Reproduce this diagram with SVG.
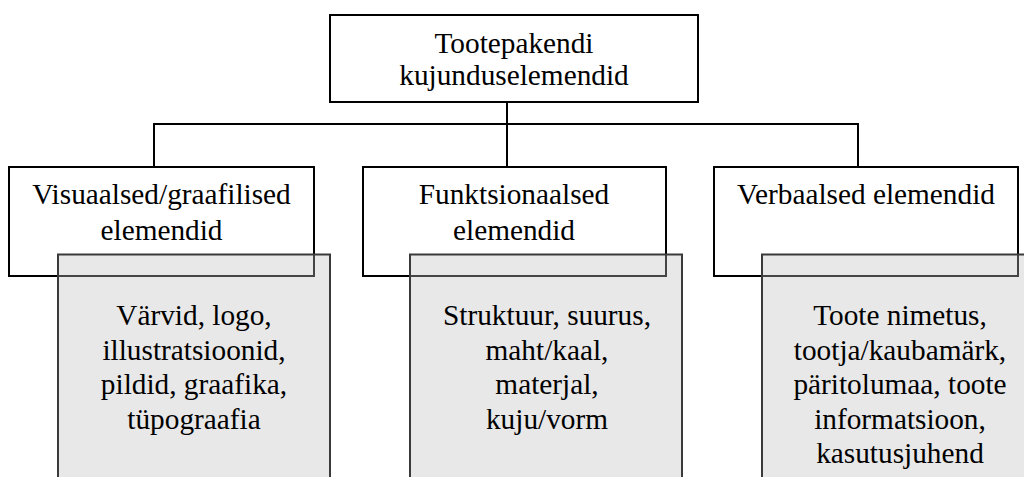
<svg xmlns="http://www.w3.org/2000/svg" width="1024" height="477" viewBox="0 0 1024 477">
  <style>
    .box { fill: #ffffff; stroke: #000000; stroke-width: 2; }
    .detail { fill: #bebebe; fill-opacity: 0.36; stroke: #3a3a3a; stroke-width: 2; }
    .wire { fill: none; stroke: #000000; stroke-width: 2; }
    text { font-family: "Liberation Serif", "Times New Roman", serif; font-size: 29.3px; fill: #000000; text-anchor: middle; }
  </style>
  <rect width="1024" height="477" fill="#ffffff"/>

  <!-- tree connectors -->
  <g id="connectors">
    <path class="wire" d="M507 102 V124"/>
    <path class="wire" d="M154 124 H858"/>
    <path class="wire" d="M154 123 V167"/>
    <path class="wire" d="M507 123 V167"/>
    <path class="wire" d="M858 123 V167"/>
  </g>

  <!-- root -->
  <g id="root">
    <rect class="box" x="330" y="15" width="368" height="87"/>
    <text x="514" y="53">Tootepakendi</text>
    <text x="514" y="85">kujunduselemendid</text>
  </g>

  <!-- category headers -->
  <g id="visual">
    <rect class="box" x="9" y="167" width="305" height="109"/>
    <text x="161.5" y="204">Visuaalsed/graafilised</text>
    <text x="161.5" y="240">elemendid</text>
  </g>
  <g id="functional">
    <rect class="box" x="363" y="167" width="303" height="109"/>
    <text x="514" y="204">Funktsionaalsed</text>
    <text x="514" y="240">elemendid</text>
  </g>
  <g id="verbal">
    <rect class="box" x="714" y="167" width="304" height="109"/>
    <text x="866" y="204">Verbaalsed elemendid</text>
  </g>

  <!-- detail panels (translucent, overlapping the headers) -->
  <g id="visual-details">
    <rect class="detail" x="58" y="254.5" width="272" height="240"/>
    <text x="194" y="325">Värvid, logo,</text>
    <text x="194" y="359.5">illustratsioonid,</text>
    <text x="194" y="394">pildid, graafika,</text>
    <text x="194" y="428.5">tüpograafia</text>
  </g>
  <g id="functional-details">
    <rect class="detail" x="410" y="254.5" width="272" height="240"/>
    <text x="547" y="325">Struktuur, suurus,</text>
    <text x="547" y="359.5">maht/kaal,</text>
    <text x="547" y="394">materjal,</text>
    <text x="547" y="428.5">kuju/vorm</text>
  </g>
  <g id="verbal-details">
    <rect class="detail" x="762" y="254.5" width="277" height="240"/>
    <text x="900" y="325">Toote nimetus,</text>
    <text x="900" y="359.5">tootja/kaubamärk,</text>
    <text x="900" y="394">päritolumaa, toote</text>
    <text x="900" y="428.5">informatsioon,</text>
    <text x="900" y="463">kasutusjuhend</text>
  </g>
</svg>
